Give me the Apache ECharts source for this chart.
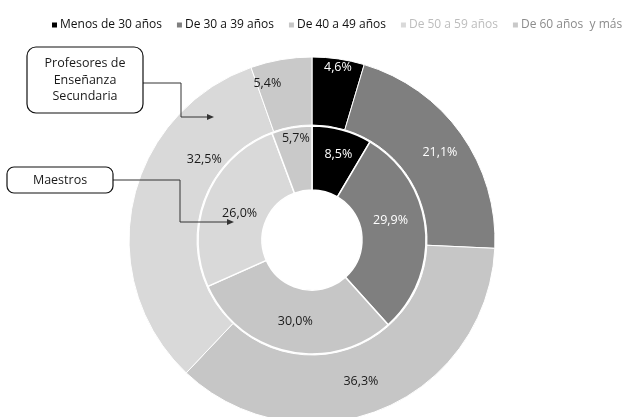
<!DOCTYPE html>
<html>
<head>
<meta charset="utf-8">
<script src="https://cdn.jsdelivr.net/npm/echarts@6/dist/echarts.min.js"></script>
<style>
  html, body { margin: 0; padding: 0; background: #fff; }
  #chart { width: 625px; height: 417px; }
</style>
</head>
<body>
<div id="chart"></div>
<script>
// Age groups (legend order = slice order, clockwise from 12 o'clock)
const ageGroups = ['Menos de 30 años', 'De 30 a 39 años', 'De 40 a 49 años', 'De 50 a 59 años', 'De 60 años  y más'];
// Inner ring: Maestros (%)
const maestros = [8.5, 29.9, 30.0, 26.0, 5.7];
// Outer ring: Profesores de Enseñanza Secundaria (%)
const profesores = [4.6, 21.1, 36.3, 32.5, 5.4];

const sliceColors = ['#000000', '#7f7f7f', '#c6c6c6', '#d9d9d9', '#c9c9c9'];
const legendTextColors = ['#111111', '#111111', '#111111', '#bdbdbd', '#8c8c8c'];
// Label nudges from the default in-slice position
const innerLabelOffsets = [[4, -4], [-6, -11], [1, -2], [6, 6], [-1, -18]];
const outerLabelOffsets = [[4, -22], [4, 0], [-8, 0], [41, -49], [-19, -7]];

const FONT = 'Open Sans';
const fmt = v => v.toFixed(1).replace('.', ',') + '%';

function ringData(values, offsets) {
  return values.map((v, i) => ({
    name: ageGroups[i],
    value: v,
    itemStyle: { color: sliceColors[i] },
    label: { offset: offsets[i], color: i < 2 ? '#ffffff' : '#1a1a1a' }
  }));
}

const chart = echarts.init(document.getElementById('chart'), null, { renderer: 'canvas' });

// Annotation callouts: rounded box + elbow connector + arrow head
function arrowHead(x, y) {
  return { type: 'polygon', shape: { points: [[x, y], [x - 7, y - 3], [x - 7, y + 3]] },
           style: { fill: '#333' }, z: 100 };
}

chart.setOption({
  animation: false,
  legend: {
    left: 45, top: 14, width: 580,
    itemWidth: 7, itemHeight: 7, itemGap: 13,
    icon: 'rect',
    selectedMode: false,
    textStyle: { fontFamily: FONT, fontSize: 12, padding: [0, 0, 0, -3] },
    data: ageGroups.map((n, i) => ({ name: n, textStyle: { color: legendTextColors[i] } }))
  },
  series: [
    {
      name: 'Maestros',
      type: 'pie',
      center: [312, 240],
      radius: [50, 114],
      startAngle: 90,
      clockwise: true,
      label: { position: 'inside', formatter: p => fmt(p.value), fontFamily: FONT, fontSize: 12.5 },
      labelLine: { show: false },
      itemStyle: { borderColor: '#ffffff', borderWidth: 1.5 },
      emphasis: { disabled: true },
      data: ringData(maestros, innerLabelOffsets)
    },
    {
      name: 'Profesores de Enseñanza Secundaria',
      type: 'pie',
      center: [312, 240],
      radius: [115, 183],
      startAngle: 90,
      clockwise: true,
      label: { position: 'inside', formatter: p => fmt(p.value), fontFamily: FONT, fontSize: 12.5 },
      labelLine: { show: false },
      itemStyle: { borderColor: '#ffffff', borderWidth: 1 },
      emphasis: { disabled: true },
      data: ringData(profesores, outerLabelOffsets)
    }
  ],
  graphic: [
    { type: 'polyline', shape: { points: [[143, 83], [181, 83], [181, 117], [208, 117]] },
      style: { stroke: '#333', lineWidth: 1, fill: null }, z: 100 },
    arrowHead(214, 117),
    { type: 'rect', shape: { x: 27, y: 47, width: 116, height: 66, r: 9 },
      style: { fill: '#fff', stroke: '#111', lineWidth: 1.2 }, z: 100 },
    { type: 'text', x: 85, y: 80, z: 101,
      style: { text: 'Profesores de\nEnseñanza\nSecundaria', fontFamily: FONT, fontSize: 12.5,
               lineHeight: 16.5, fill: '#1a1a1a', align: 'center', verticalAlign: 'middle' } },
    { type: 'polyline', shape: { points: [[113, 180], [180, 180], [180, 222], [228, 222]] },
      style: { stroke: '#333', lineWidth: 1, fill: null }, z: 100 },
    arrowHead(234, 222),
    { type: 'rect', shape: { x: 7, y: 167, width: 106, height: 26, r: 7 },
      style: { fill: '#fff', stroke: '#111', lineWidth: 1.2 }, z: 100 },
    { type: 'text', x: 60, y: 180, z: 101,
      style: { text: 'Maestros', fontFamily: FONT, fontSize: 12.5, fill: '#1a1a1a',
               align: 'center', verticalAlign: 'middle' } }
  ]
});
</script>
</body>
</html>
